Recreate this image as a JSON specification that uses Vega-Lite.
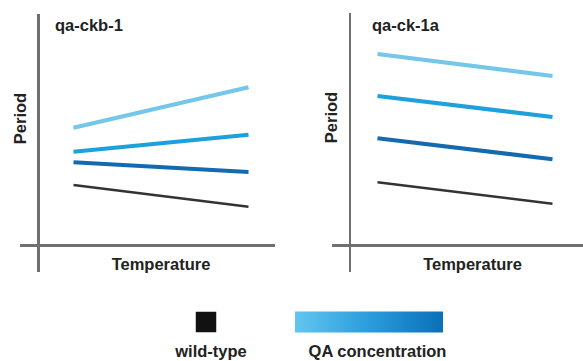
{
  "$schema": "https://vega.github.io/schema/vega-lite/v6.json",
  "padding": 0,
  "autosize": {"type": "pad"},
  "background": "white",
  "spacing": 0,
  "config": {
    "view": {"stroke": null},
    "font": "Liberation Sans",
    "axis": {
      "domain": false, "ticks": false, "labels": false, "grid": false,
      "titleFont": "Liberation Sans", "titleFontSize": 16.5, "titleFontWeight": "bold", "titleColor": "#222222"
    },
    "title": {"font": "Liberation Sans", "fontSize": 16.5, "fontWeight": "bold", "color": "#222222"}
  },
  "datasets": {
    "lines": [
      {"panel": "qa-ckb-1", "series": "wild-type", "temperature": 14, "period": 24.2},
      {"panel": "qa-ckb-1", "series": "wild-type", "temperature": 84, "period": 15.5},
      {"panel": "qa-ckb-1", "series": "QA high", "temperature": 14, "period": 33.3},
      {"panel": "qa-ckb-1", "series": "QA high", "temperature": 84, "period": 29.4},
      {"panel": "qa-ckb-1", "series": "QA medium", "temperature": 14, "period": 37.5},
      {"panel": "qa-ckb-1", "series": "QA medium", "temperature": 84, "period": 44.3},
      {"panel": "qa-ckb-1", "series": "QA low", "temperature": 14, "period": 47.1},
      {"panel": "qa-ckb-1", "series": "QA low", "temperature": 84, "period": 63.3},
      {"panel": "qa-ck-1a", "series": "wild-type", "temperature": 11, "period": 25.3},
      {"panel": "qa-ck-1a", "series": "wild-type", "temperature": 81, "period": 16.7},
      {"panel": "qa-ck-1a", "series": "QA high", "temperature": 11, "period": 42.9},
      {"panel": "qa-ck-1a", "series": "QA high", "temperature": 81, "period": 34.5},
      {"panel": "qa-ck-1a", "series": "QA medium", "temperature": 11, "period": 59.8},
      {"panel": "qa-ck-1a", "series": "QA medium", "temperature": 81, "period": 51.4},
      {"panel": "qa-ck-1a", "series": "QA low", "temperature": 11, "period": 76.6},
      {"panel": "qa-ck-1a", "series": "QA low", "temperature": 81, "period": 67.8}
    ]
  },
  "vconcat": [
    {
      "hconcat": [
        {
          "width": 290,
          "height": 290,
          "title": {"text": "qa-ckb-1", "anchor": "start", "frame": "group", "offset": -47.5, "dx": 55, "baseline": "alphabetic"},
          "data": {"name": "lines"},
          "transform": [{"filter": "datum.panel === 'qa-ckb-1'"}],
          "layer": [
            {
              "mark": {"type": "rule", "color": "#707070", "strokeWidth": 2},
              "encoding": {
                "x": {"datum": 0, "type": "quantitative", "scale": {"domain": [-15.4, 100.6], "nice": false, "zero": false}},
                "y": {"datum": -10.6, "type": "quantitative", "scale": {"domain": [-17.8, 98.2], "nice": false, "zero": false}},
                "y2": {"datum": 92.6}
              }
            },
            {
              "mark": {"type": "rule", "color": "#707070", "strokeWidth": 2},
              "encoding": {
                "y": {"datum": 0, "type": "quantitative", "scale": {"domain": [-17.8, 98.2], "nice": false, "zero": false}},
                "x": {"datum": -7.4, "type": "quantitative", "scale": {"domain": [-15.4, 100.6], "nice": false, "zero": false}},
                "x2": {"datum": 94.6}
              }
            },
            {
              "mark": {"type": "line", "strokeCap": "butt"},
              "encoding": {
                "x": {"field": "temperature", "type": "quantitative", "scale": {"domain": [-15.4, 100.6], "nice": false, "zero": false},
                      "axis": {"title": "Temperature", "titleX": 160.5, "titleY": -21, "titleBaseline": "alphabetic", "titleAlign": "center", "titleAngle": 0}},
                "y": {"field": "period", "type": "quantitative", "scale": {"domain": [-17.8, 98.2], "nice": false, "zero": false},
                      "axis": {"title": "Period", "titleX": 25, "titleY": 118, "titleBaseline": "alphabetic", "titleAlign": "center", "titleAngle": 270}},
                "detail": {"field": "series"},
                "color": {"field": "series", "type": "nominal", "legend": null,
                          "scale": {"domain": ["wild-type", "QA high", "QA medium", "QA low"], "range": ["#333333", "#146aaf", "#1ca1dc", "#72c7eb"]}},
                "strokeWidth": {"condition": {"test": "datum.series === 'wild-type'", "value": 2.5}, "value": 4.2}
              }
            }
          ]
        },
        {
          "width": 293,
          "height": 290,
          "title": {"text": "qa-ck-1a", "anchor": "start", "frame": "group", "offset": -47.5, "dx": 82, "baseline": "alphabetic"},
          "data": {"name": "lines"},
          "transform": [{"filter": "datum.panel === 'qa-ck-1a'"}],
          "layer": [
            {
              "mark": {"type": "rule", "color": "#707070", "strokeWidth": 2},
              "encoding": {
                "x": {"datum": 0, "type": "quantitative", "scale": {"domain": [-24, 93.2], "nice": false, "zero": false}},
                "y": {"datum": -10.6, "type": "quantitative", "scale": {"domain": [-17.8, 98.2], "nice": false, "zero": false}},
                "y2": {"datum": 93.0}
              }
            },
            {
              "mark": {"type": "rule", "color": "#707070", "strokeWidth": 2},
              "encoding": {
                "y": {"datum": 0, "type": "quantitative", "scale": {"domain": [-17.8, 98.2], "nice": false, "zero": false}},
                "x": {"datum": -7.2, "type": "quantitative", "scale": {"domain": [-24, 93.2], "nice": false, "zero": false}},
                "x2": {"datum": 93.2}
              }
            },
            {
              "mark": {"type": "line", "strokeCap": "butt"},
              "encoding": {
                "x": {"field": "temperature", "type": "quantitative", "scale": {"domain": [-24, 93.2], "nice": false, "zero": false},
                      "axis": {"title": "Temperature", "titleX": 182, "titleY": -21, "titleBaseline": "alphabetic", "titleAlign": "center", "titleAngle": 0}},
                "y": {"field": "period", "type": "quantitative", "scale": {"domain": [-17.8, 98.2], "nice": false, "zero": false},
                      "axis": {"title": "Period", "titleX": 46, "titleY": 117, "titleBaseline": "alphabetic", "titleAlign": "center", "titleAngle": 270}},
                "detail": {"field": "series"},
                "color": {"field": "series", "type": "nominal", "legend": null,
                          "scale": {"domain": ["wild-type", "QA high", "QA medium", "QA low"], "range": ["#333333", "#146aaf", "#1ca1dc", "#72c7eb"]}},
                "strokeWidth": {"condition": {"test": "datum.series === 'wild-type'", "value": 2.5}, "value": 4.2}
              }
            }
          ]
        }
      ],
      "spacing": 0,
      "resolve": {"scale": {"x": "independent", "y": "independent", "color": "independent"}}
    },
    {
      "width": 583,
      "height": 64,
      "layer": [
        {
          "data": {"values": [{"item": "wild-type"}]},
          "mark": {"type": "square", "size": 420, "color": "#111111", "opacity": 1, "filled": true},
          "encoding": {
            "x": {"field": "item", "type": "nominal", "scale": {"type": "point", "padding": 0, "domain": ["wild-type", "QA concentration"], "range": [206, 369]}, "axis": null}
          }
        },
        {
          "data": {"values": [{"item": "QA concentration"}]},
          "mark": {"type": "point", "shape": "M-1,-0.142H1V0.142H-1Z", "size": 21904, "filled": true, "opacity": 1, "strokeWidth": 0,
                   "fill": {"gradient": "linear", "x1": 0, "y1": 0, "x2": 1, "y2": 0,
                             "stops": [{"offset": 0, "color": "#63c5f0"}, {"offset": 0.5, "color": "#2a9ddc"}, {"offset": 1, "color": "#0a70b8"}]}},
          "encoding": {
            "x": {"field": "item", "type": "nominal", "scale": {"type": "point", "padding": 0, "domain": ["wild-type", "QA concentration"], "range": [206, 369]}, "axis": null}
          }
        },
        {
          "data": {"values": [{"item": "wild-type"}]},
          "mark": {"type": "text", "dx": 5, "dy": 35, "baseline": "alphabetic", "align": "center", "font": "Liberation Sans", "fontSize": 16.5, "fontWeight": "bold", "color": "#222222"},
          "encoding": {
            "x": {"field": "item", "type": "nominal", "scale": {"type": "point", "padding": 0, "domain": ["wild-type", "QA concentration"], "range": [206, 369]}, "axis": null},
            "text": {"field": "item"}
          }
        },
        {
          "data": {"values": [{"item": "QA concentration"}]},
          "mark": {"type": "text", "dx": 8.5, "dy": 35, "baseline": "alphabetic", "align": "center", "font": "Liberation Sans", "fontSize": 16.5, "fontWeight": "bold", "color": "#222222"},
          "encoding": {
            "x": {"field": "item", "type": "nominal", "scale": {"type": "point", "padding": 0, "domain": ["wild-type", "QA concentration"], "range": [206, 369]}, "axis": null},
            "text": {"field": "item"}
          }
        }
      ]
    }
  ]
}
